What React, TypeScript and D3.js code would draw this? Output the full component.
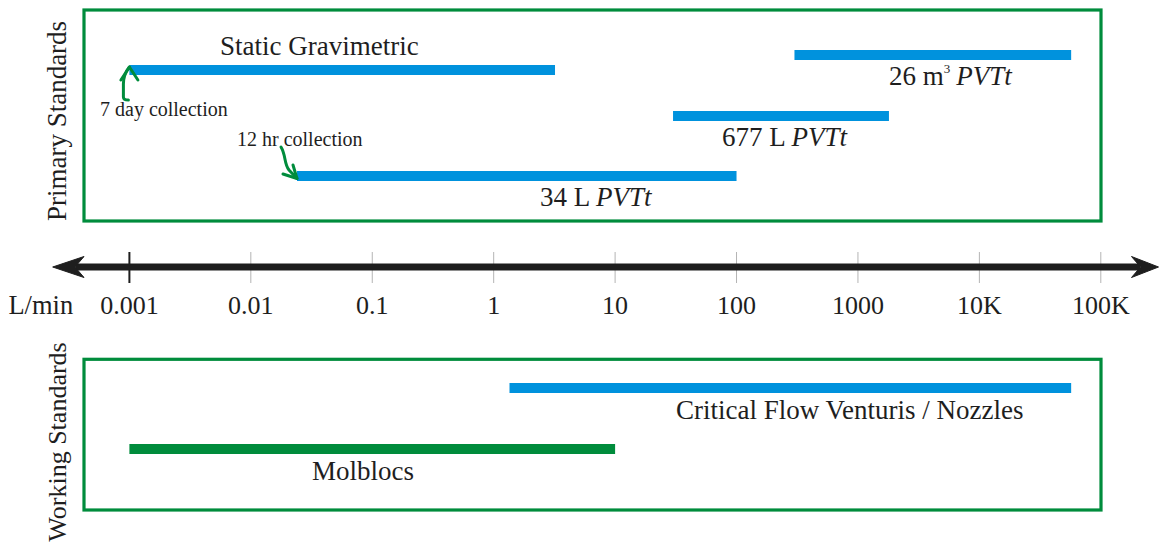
import React from "react";
import * as d3 from "d3";

// ---------- data ----------
const tickValues = [0.001, 0.01, 0.1, 1, 10, 100, 1000, 10000, 100000];
const tickLabels = ["0.001", "0.01", "0.1", "1", "10", "100", "1000", "10K", "100K"];

const primaryMain = ["26 m", "Static Gravimetric", "677 L ", "34 L "];
const primarySup = ["3", "", "", ""];
const primaryItalic = ["PVTt", "", "PVTt", "PVTt"];
const primaryMin = [300, 0.001, 30, 0.024];
const primaryMax = [57000, 3.2, 1800, 100];

const workingNames = ["Critical Flow Venturis / Nozzles", "Molblocs"];
const workingMin = [1.35, 0.001];
const workingMax = [57000, 10];

const annotations = ["7 day collection", "12 hr collection"];

// ---------- layout / style ----------
const W = 1160;
const H = 547;
const BLUE = "#0092dd";
const GREEN = "#008c3c";
const INK = "#1e1e1e";
const FONT = "'Liberation Serif', 'Times New Roman', serif";
const BAR_H = 10;
const AXIS_Y = 267;

const primaryBarY = [55, 70, 116, 176];
const primaryLabelPos = [
  { x: 889, y: 85 },
  { x: 220, y: 55 },
  { x: 722, y: 146 },
  { x: 540, y: 206 },
];
const workingBarY = [388, 449];
const workingLabelPos = [
  { x: 676, y: 419 },
  { x: 312, y: 480 },
];
const workingColors = [BLUE, GREEN];

export default function App() {
  const x = d3.scaleLog().domain([0.001, 100000]).range([129.4, 1100.8]);

  const x0 = x(0.001);
  const x34 = x(primaryMin[3]);

  return (
    <svg
      width={W}
      height={H}
      style={{ position: "absolute", left: 0, top: 0, background: "#fff" }}
      fontFamily={FONT}
    >
      {/* Boxes */}
      <rect x={84} y={10} width={1017} height={211} fill="none" stroke={GREEN} strokeWidth={3.2} />
      <rect x={84} y={359.3} width={1017} height={150.7} fill="none" stroke={GREEN} strokeWidth={3.2} />

      {/* Group titles */}
      <text
        transform="translate(66,121) rotate(-90)"
        textAnchor="middle"
        fontSize={27}
        fill={INK}
      >
        Primary Standards
      </text>
      <text
        transform="translate(66,442) rotate(-90)"
        textAnchor="middle"
        fontSize={26}
        fill={INK}
      >
        Working Standards
      </text>

      {/* Primary bars */}
      {primaryMin.map((mn, i) => (
        <rect
          key={"pb" + i}
          x={x(mn)}
          y={primaryBarY[i] - BAR_H / 2}
          width={x(primaryMax[i]) - x(mn)}
          height={BAR_H}
          fill={BLUE}
        />
      ))}
      {primaryMain.map((t, i) => (
        <text
          key={"pl" + i}
          x={primaryLabelPos[i].x}
          y={primaryLabelPos[i].y}
          fontSize={27}
          fill={INK}
        >
          {t}
          {primarySup[i] ? (
            <tspan fontSize={13} dy={-12}>
              {primarySup[i]}
            </tspan>
          ) : null}
          {primaryItalic[i] ? (
            <tspan fontStyle="italic" dy={primarySup[i] ? 12 : 0} dx={primarySup[i] ? 6 : 0}>
              {primaryItalic[i]}
            </tspan>
          ) : null}
        </text>
      ))}

      {/* Green annotation arrows */}
      <g fill="none" stroke={GREEN} strokeWidth={3} strokeLinecap="round" strokeLinejoin="round">
        <path d={`M${x0},67 C${x0 - 4},72 ${x0 - 6},77 ${x0 - 6},84 L${x0 - 6},97 Q${x0 - 6},100 ${x0 - 1},100`} />
        <path d={`M${x0 - 8.5},80 L${x0},67 L${x0 + 8.5},80`} />
        <path d={`M${x34 - 16},147 C${x34 - 11},155 ${x34 - 13},164 ${x34 - 8},170 L${x34},178.5`} />
        <path d={`M${x34 - 4},165 L${x34},178.5 L${x34 - 14},174`} />
      </g>
      <text x={100} y={116} fontSize={20} fill={INK}>
        {annotations[0]}
      </text>
      <text x={237} y={146} fontSize={20} fill={INK}>
        {annotations[1]}
      </text>

      {/* Axis */}
      {tickValues.map((v, i) => (
        <line
          key={"t" + i}
          x1={x(v)}
          x2={x(v)}
          y1={252}
          y2={283}
          stroke={i === 0 ? INK : "#b4b4b4"}
          strokeWidth={i === 0 ? 2 : 1}
        />
      ))}
      <line x1={76} x2={1140} y1={AXIS_Y} y2={AXIS_Y} stroke={INK} strokeWidth={7} />
      <path
        d={`M52.7,${AXIS_Y} L84,${AXIS_Y - 10.5} L75,${AXIS_Y} L84,${AXIS_Y + 10.5} Z`}
        fill={INK}
        stroke={INK}
        strokeWidth={1}
        strokeLinejoin="miter"
      />
      <path
        d={`M1158.5,${AXIS_Y} L1131.5,${AXIS_Y - 10.5} L1140.5,${AXIS_Y} L1131.5,${AXIS_Y + 10.5} Z`}
        fill={INK}
        stroke={INK}
        strokeWidth={1}
      />
      <text x={8.4} y={314} fontSize={26.5} fill={INK}>
        L/min
      </text>
      {tickValues.map((v, i) => (
        <text key={"tl" + i} x={x(v)} y={314} fontSize={26} textAnchor="middle" fill={INK}>
          {tickLabels[i]}
        </text>
      ))}

      {/* Working bars */}
      {workingMin.map((mn, i) => (
        <rect
          key={"wb" + i}
          x={x(mn)}
          y={workingBarY[i] - BAR_H / 2}
          width={x(workingMax[i]) - x(mn)}
          height={BAR_H}
          fill={workingColors[i]}
        />
      ))}
      {workingNames.map((t, i) => (
        <text key={"wl" + i} x={workingLabelPos[i].x} y={workingLabelPos[i].y} fontSize={27} fill={INK}>
          {t}
        </text>
      ))}
    </svg>
  );
}
